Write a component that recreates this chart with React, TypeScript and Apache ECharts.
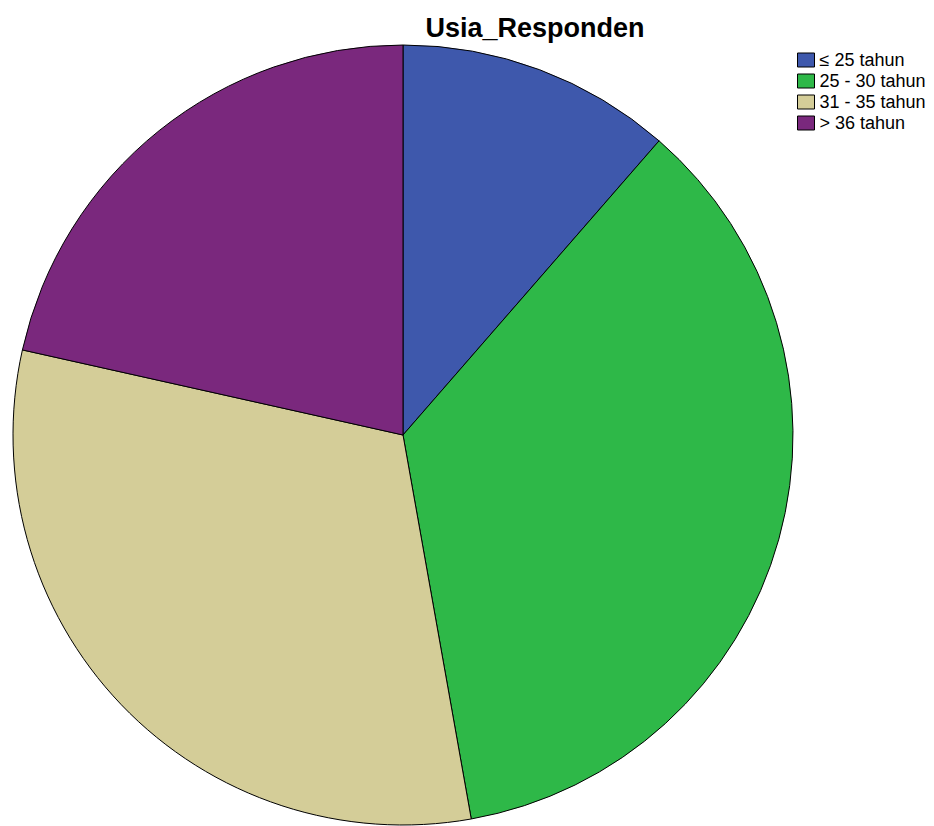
import React, { useEffect, useRef } from "react";
import * as echarts from "echarts";

const categories = ["≤ 25 tahun", "25 - 30 tahun", "31 - 35 tahun", "> 36 tahun"];
const values = [11.4, 35.8, 31.3, 21.5];
const colors = ["#3E58AC", "#2EB848", "#D4CD98", "#7A287D"];

export default function App() {
  const ref = useRef<HTMLDivElement>(null);
  useEffect(() => {
    const chart = echarts.init(ref.current!, null, { renderer: "svg" });
    chart.setOption({
      animation: false,
      backgroundColor: "#ffffff",
      title: {
        text: "Usia_Responden",
        left: 530,
        top: 9,
        padding: 5,
        textAlign: "center",
        textStyle: { fontFamily: "Liberation Sans, Arial", fontWeight: "bold", fontSize: 27, color: "#000" },
      },
      legend: {
        orient: "vertical",
        left: 797,
        top: 51,
        padding: 0,
        itemWidth: 17,
        itemHeight: 14,
        itemGap: 3,
        icon: "rect",
        data: categories,
        itemStyle: { borderColor: "#000", borderWidth: 1 },
        textStyle: { fontFamily: "Liberation Sans, Arial", fontSize: 18, color: "#000", padding: 0 },
      },
      series: [
        {
          type: "pie",
          center: [403, 435],
          radius: [0, 390],
          startAngle: 90,
          clockwise: true,
          label: { show: false },
          labelLine: { show: false },
          emphasis: { disabled: true },
          itemStyle: { borderColor: "#000", borderWidth: 1 },
          data: categories.map((c, i) => ({ name: c, value: values[i], itemStyle: { color: colors[i] } })),
        },
      ],
    });
    return () => chart.dispose();
  }, []);
  return <div ref={ref} style={{ position: "fixed", left: 0, top: 0, width: 934, height: 826 }} />;
}
